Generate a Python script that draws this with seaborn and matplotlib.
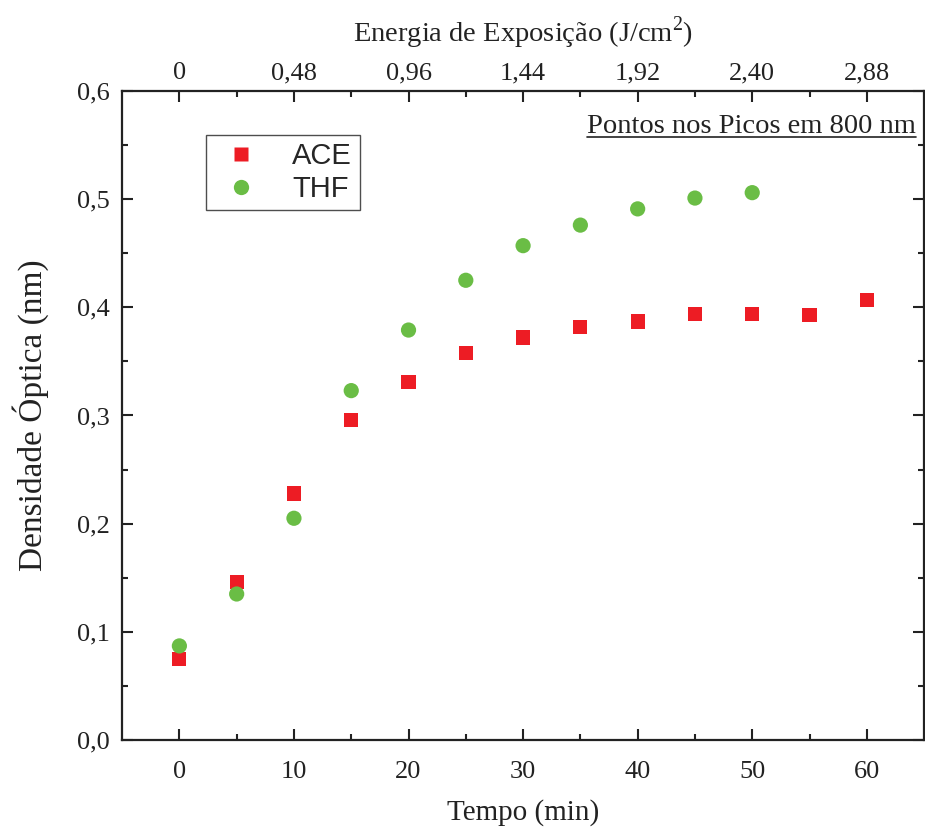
import matplotlib
matplotlib.use("Agg")
import matplotlib.pyplot as plt
import seaborn as sns
import pandas as pd
from matplotlib.lines import Line2D

sns.set_theme(style="white")
plt.rcParams['font.family'] = ['Liberation Serif', 'DejaVu Serif']
plt.rcParams['mathtext.fontset'] = 'custom'
plt.rcParams['mathtext.rm'] = 'Liberation Serif'

# Data
tempo_ace = [0, 5, 10, 15, 20, 25, 30, 35, 40, 45, 50, 55, 60]
dens_ace = [0.075, 0.146, 0.228, 0.296, 0.331, 0.358, 0.372, 0.382, 0.387, 0.394, 0.394, 0.393, 0.407]
tempo_thf = [0, 5, 10, 15, 20, 25, 30, 35, 40, 45, 50]
dens_thf = [0.087, 0.135, 0.205, 0.323, 0.379, 0.425, 0.457, 0.476, 0.491, 0.501, 0.506]

x_ticks = [0, 10, 20, 30, 40, 50, 60]
y_ticks = [0.0, 0.1, 0.2, 0.3, 0.4, 0.5, 0.6]
y_labels = ["0,0", "0,1", "0,2", "0,3", "0,4", "0,5", "0,6"]
top_ticks = [0, 0.48, 0.96, 1.44, 1.92, 2.40, 2.88]
top_labels = ["0", "0,48", "0,96", "1,44", "1,92", "2,40", "2,88"]
energy_per_min = 0.048

red = "#ED1C24"
green = "#6ABD45"
ink = "#222222"

df_ace = pd.DataFrame({"t": tempo_ace, "d": dens_ace})
df_thf = pd.DataFrame({"t": tempo_thf, "d": dens_thf})

fig = plt.figure(figsize=(9.25, 8.3), dpi=100)
ax = fig.add_axes([0.132, 0.1084, 0.867, 0.782])

sns.scatterplot(data=df_ace, x="t", y="d", marker="s", s=105, color=red,
                edgecolor="none", ax=ax, zorder=3)
sns.scatterplot(data=df_thf, x="t", y="d", marker="o", s=120, color=green,
                edgecolor="none", ax=ax, zorder=3)

ax.set_xlim(-5, 65)
ax.set_ylim(0, 0.6)
ax.set_xticks(x_ticks)
ax.set_xticks([5, 15, 25, 35, 45, 55], minor=True)
ax.set_yticks(y_ticks)
ax.set_yticklabels(y_labels)
ax.set_yticks([0.05, 0.15, 0.25, 0.35, 0.45, 0.55], minor=True)
ax.tick_params(axis="both", which="both", direction="in", labelsize=19,
               width=1.5, colors=ink, labelcolor=ink)
ax.tick_params(which="major", length=8)
ax.tick_params(which="minor", length=4)
ax.tick_params(axis="y", which="both", right=True, left=True)
ax.tick_params(axis="x", which="both", bottom=True, top=False, pad=15)
ax.tick_params(axis="y", pad=9)
for sp in ax.spines.values():
    sp.set_linewidth(1.6)
    sp.set_color(ink)

ax.set_xlabel("Tempo (min)", fontsize=21, labelpad=12, color=ink)
ax.set_ylabel("Densidade Óptica (nm)", fontsize=24, labelpad=20, color=ink)

sec = ax.secondary_xaxis("top", functions=(lambda t: t * energy_per_min,
                                            lambda e: e / energy_per_min))
sec.set_xticks(top_ticks)
sec.set_xticklabels(top_labels)
sec.set_xticks([0.24, 0.72, 1.20, 1.68, 2.16, 2.64], minor=True)
sec.tick_params(axis="x", which="both", direction="in", labelsize=19,
                width=1.5, colors=ink, labelcolor=ink, pad=5)
sec.tick_params(which="major", length=8)
sec.tick_params(which="minor", length=4)
sec.set_xlabel("Energia de Exposição (J/cm$^2$)", fontsize=20.5, labelpad=15,
               color=ink)

note = ax.text(0.99, 0.945, "Pontos nos Picos em 800 nm", transform=ax.transAxes,
               ha="right", va="center", fontsize=20.5, color=ink)
fig.canvas.draw()
bb = note.get_window_extent().transformed(ax.transAxes.inverted())
ax.plot([bb.x0, bb.x1], [bb.y0 + 0.004, bb.y0 + 0.004], transform=ax.transAxes,
        color=ink, lw=1.2)

handles = [Line2D([0], [0], marker="s", color="none", markerfacecolor=red,
                  markeredgecolor="none", markersize=10, label="ACE"),
           Line2D([0], [0], marker="o", color="none", markerfacecolor=green,
                  markeredgecolor="none", markersize=11, label="THF")]
leg = ax.legend(handles=handles, loc="upper left", bbox_to_anchor=(0.105, 0.932),
                frameon=True, fancybox=False, edgecolor=ink,
                prop={"family": "Liberation Sans", "size": 21},
                handletextpad=0.8, borderpad=0.25, labelspacing=0.15,
                handlelength=1.9, borderaxespad=0)
leg.get_frame().set_linewidth(1.0)

fig.savefig("out.png", dpi=100, facecolor="white")
